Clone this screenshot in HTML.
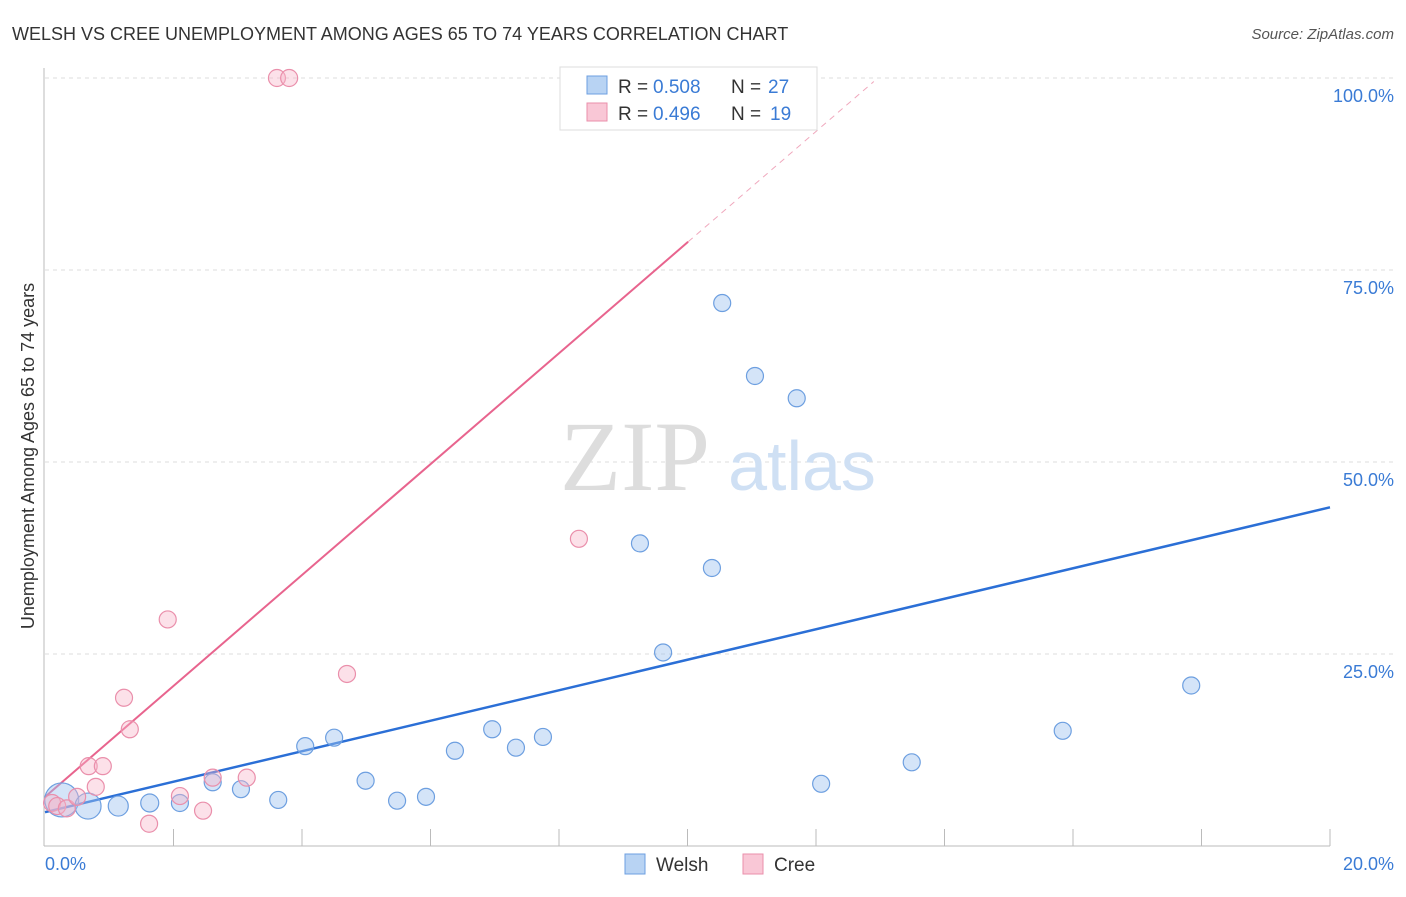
<!DOCTYPE html>
<html><head><meta charset="utf-8"><style>
body{margin:0;background:#fff;font-family:"Liberation Sans",sans-serif;}
svg text{font-family:"Liberation Sans",sans-serif;}
</style></head><body>
<svg width="1406" height="892">
<text x="12" y="40" font-size="18" fill="#333">WELSH VS CREE UNEMPLOYMENT AMONG AGES 65 TO 74 YEARS CORRELATION CHART</text>
<text x="1394" y="39" font-size="15" fill="#555" font-style="italic" text-anchor="end">Source: ZipAtlas.com</text>
<g id="grid"></g>
<text x="635" y="490" font-size="100" fill="#ddd" text-anchor="middle" style="font-family:'Liberation Serif',serif">ZIP</text>
<text x="802" y="490" font-size="70" fill="#cfe0f4" text-anchor="middle">atlas</text>
<line x1="44" y1="68" x2="44" y2="846" stroke="#bbb"/>
<line x1="44" y1="846" x2="1330" y2="846" stroke="#bbb"/>
<g id="ticks"></g>
<text x="34" y="456" font-size="18" fill="#333" text-anchor="middle" transform="rotate(-90 34 456)">Unemployment Among Ages 65 to 74 years</text>
<text x="45" y="870" font-size="18" fill="#3a7bd5">0.0%</text>
<text x="1394" y="870" font-size="18" fill="#3a7bd5" text-anchor="end">20.0%</text>
<g id="lines"></g>
<g id="points"></g>
<g>
<rect x="560" y="67" width="257" height="63" fill="#fff" stroke="#ddd"/>
<rect x="587" y="76" width="20" height="18" fill="#b8d3f3" stroke="#6d9fe0"/>
<rect x="587" y="103" width="20" height="18" fill="#f9c7d6" stroke="#ea8fab"/>
<text x="618" y="93" font-size="19" fill="#333">R =</text>
<text x="653" y="93" font-size="19" fill="#3a7bd5">0.508</text>
<text x="731" y="93" font-size="19" fill="#333">N =</text>
<text x="768" y="93" font-size="19" fill="#3a7bd5">27</text>
<text x="618" y="120" font-size="19" fill="#333">R =</text>
<text x="653" y="120" font-size="19" fill="#3a7bd5">0.496</text>
<text x="731" y="120" font-size="19" fill="#333">N =</text>
<text x="770" y="120" font-size="19" fill="#3a7bd5">19</text>
</g>
<g>
<rect x="625" y="854" width="20" height="20" fill="#b8d3f3" stroke="#6d9fe0"/>
<text x="656" y="871" font-size="19" fill="#333">Welsh</text>
<rect x="743" y="854" width="20" height="20" fill="#f9c7d6" stroke="#ea8fab"/>
<text x="774" y="871" font-size="19" fill="#333">Cree</text>
</g>
</svg>
<script>
const yTicks=[25,50,75,100];
const yTickLabels=["25.0%","50.0%","75.0%","100.0%"];
const welshX=[0.26,0.67,1.14,1.63,2.10,2.61,3.05,3.63,4.05,4.50,4.99,5.48,5.93,6.38,6.96,7.33,7.75,9.26,9.62,10.38,10.54,11.05,11.70,12.08,13.49,15.84,17.84];
const welshY=[6.0,5.2,5.2,5.6,5.6,8.3,7.4,6.0,13.0,14.1,8.5,5.9,6.4,12.4,15.2,12.8,14.2,39.4,25.2,36.2,70.7,61.2,58.3,8.1,10.9,15.0,20.9];
const welshR=[17,13,10,9,8.5,8.5,8.5,8.5,8.5,8.5,8.5,8.5,8.5,8.5,8.5,8.5,8.5,8.5,8.5,8.5,8.5,8.5,8.5,8.5,8.5,8.5,8.5];
const creeX=[0.11,0.19,0.34,0.50,0.79,0.68,0.90,1.23,1.32,1.62,1.91,2.10,2.46,2.61,3.14,3.61,3.80,4.70,8.31];
const creeY=[5.6,5.2,4.9,6.4,7.7,10.4,10.4,19.3,15.2,2.9,29.5,6.5,4.6,8.9,8.9,100,100,22.4,40.0];
const welshLine=[4.4,44.1];
const creeLine=[6.4,7.22];
const NS="http://www.w3.org/2000/svg";
const sx=v=>45+v*64.25, sy=v=>846-v*7.68;
function mk(t,a,p){const e=document.createElementNS(NS,t);for(const k in a)e.setAttribute(k,a[k]);document.getElementById(p).appendChild(e);return e;}
yTicks.forEach((t,i)=>{
 const l=mk('line',{x1:45,x2:1394,y1:sy(t),y2:sy(t),stroke:'#ddd','stroke-dasharray':'4,4'},'grid');
 
 
 const tx=mk('text',{x:1394,y:sy(t)+24,'font-size':18,fill:'#3a7bd5','text-anchor':'end'},'grid');
 tx.textContent=yTickLabels[i];
 
 
});
for(let i=1;i<=10;i++){
 const l=mk('line',{x1:sx(i*2),x2:sx(i*2),y1:829,y2:846,stroke:'#bbb'},'ticks');
 
 
}
let l=mk('line',{x1:sx(0),y1:sy(welshLine[0]),x2:sx(20),y2:sy(welshLine[1]),stroke:'#2b6fd6','stroke-width':2.5},'lines');


const cy=x=>creeLine[0]+creeLine[1]*x;
l=mk('line',{x1:sx(0),y1:sy(cy(0)),x2:sx(10.01),y2:sy(cy(10.01)),stroke:'#e8648e','stroke-width':2},'lines');


l=mk('line',{x1:sx(10.01),y1:sy(cy(10.01)),x2:sx(12.9),y2:sy(cy(12.9)),stroke:'#f0a8bd','stroke-width':1,'stroke-dasharray':'6,5'},'lines');


welshX.forEach((x,i)=>{
 const c=mk('circle',{cx:sx(x),cy:sy(welshY[i]),r:welshR[i],fill:'rgba(160,196,240,0.45)',stroke:'#6d9fe0','stroke-width':1.2},'points');
 
 
});
creeX.forEach((x,i)=>{
 const c=mk('circle',{cx:sx(x),cy:sy(creeY[i]),r:8.5,fill:'rgba(248,180,200,0.4)',stroke:'#ea8fab','stroke-width':1.2},'points');
 
 
});
</script>
</body></html>
